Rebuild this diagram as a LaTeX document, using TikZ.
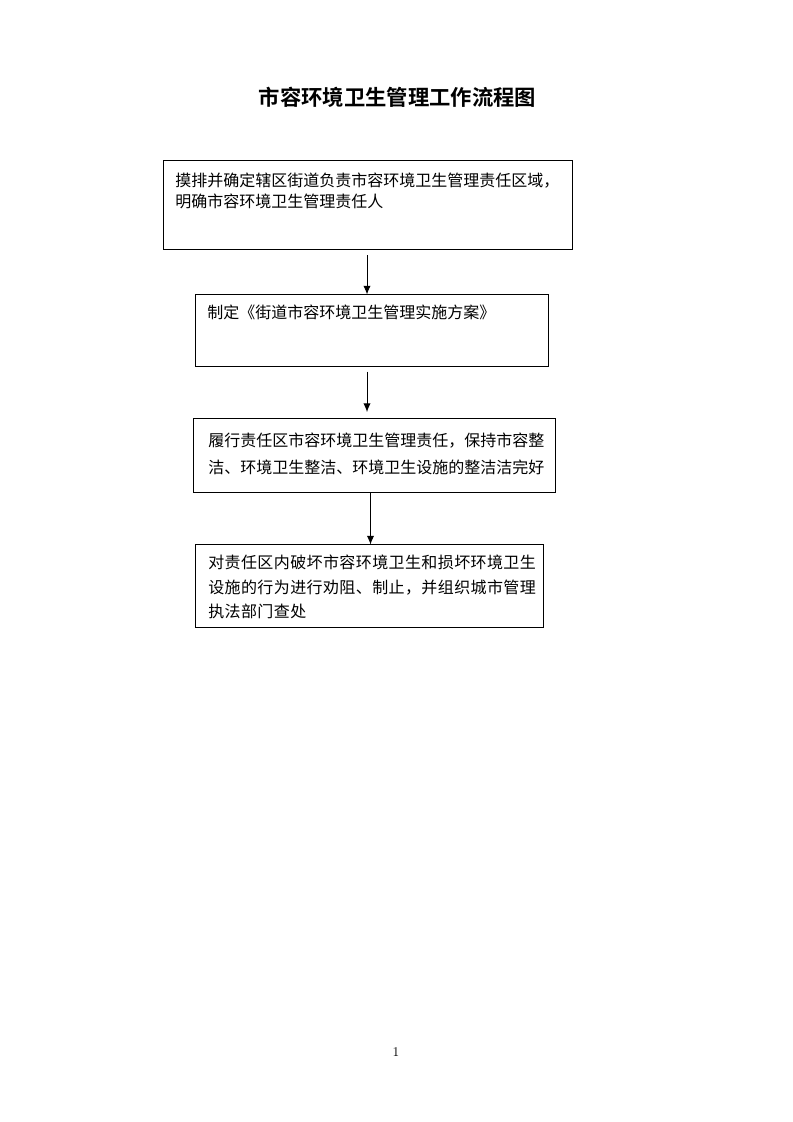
\documentclass[tikz,border=0pt]{standalone}
\usepackage{fontspec}
\newfontfamily\cjk{Noto Sans CJK SC}
\newfontfamily\cjkbold{Noto Sans CJK SC Bold}
\usetikzlibrary{arrows.meta}
\tikzset{
  box/.style={draw=black, line width=0.75pt, inner sep=0pt, outer sep=0pt, anchor=north west},
  line/.style={inner sep=0pt, anchor=base west, font=\cjk\fontsize{12pt}{14pt}\selectfont},
  arr/.style={line width=0.75pt, -{Latex[length=6.5pt,width=5.5pt]}},
}
\begin{document}
\begin{tikzpicture}[x=0.75pt,y=-0.75pt]
\useasboundingbox (0,0) rectangle (793,1122);
\fill[white] (0,0) rectangle (793,1122);
% title
\node[inner sep=0pt, anchor=base, font=\cjkbold\fontsize{16pt}{18pt}\selectfont] (title) at (397.5,105) {市容环境卫生管理工作流程图};
% boxes
\node[box, minimum width=307pt, minimum height=66.75pt] (b1) at (163.5,160) {};
\node[box, minimum width=264.75pt, minimum height=54pt] (b2) at (195.5,294.5) {};
\node[box, minimum width=271.5pt, minimum height=55.5pt] (b3) at (193.5,418) {};
\node[box, minimum width=261pt, minimum height=62.25pt] (b4) at (195.5,544.5) {};
% texts
\node[line] (t11) at (175,186) {摸排并确定辖区街道负责市容环境卫生管理责任区域，};
\node[line] (t12) at (175,207) {明确市容环境卫生管理责任人};
\node[line] (t21) at (207,318) {制定《街道市容环境卫生管理实施方案》};
\node[line] (t31) at (208,446) {履行责任区市容环境卫生管理责任，保持市容整};
\node[line] (t32) at (208,473) {洁、环境卫生整洁、环境卫生设施的整洁洁完好};
\node[line, font=\cjk\fontsize{12pt}{14pt}\selectfont\addfontfeature{LetterSpace=2.5}] (t41) at (208,568) {对责任区内破坏市容环境卫生和损坏环境卫生};
\node[line, font=\cjk\fontsize{12pt}{14pt}\selectfont\addfontfeature{LetterSpace=2.5}] (t42) at (208,593) {设施的行为进行劝阻、制止，并组织城市管理};
\node[line, font=\cjk\fontsize{12pt}{14pt}\selectfont\addfontfeature{LetterSpace=2.5}] (t43) at (208,617) {执法部门查处};
% connectors
\coordinate (xa) at (367,0);
\coordinate (xb) at (370.5,0);
\draw[arr] ([yshift=-4.5pt]b1.south -| xa) -- (b2.north -| xa);
\draw[arr] ([yshift=-3.75pt]b2.south -| xa) -- ([yshift=4.5pt]b3.north -| xa);
\draw[arr] (b3.south -| xb) -- (b4.north -| xb);
% page number
\node[inner sep=0pt, anchor=base, font=\fontsize{10pt}{11pt}\selectfont] (pg) at (396,1056) {1};
\end{tikzpicture}
\end{document}
